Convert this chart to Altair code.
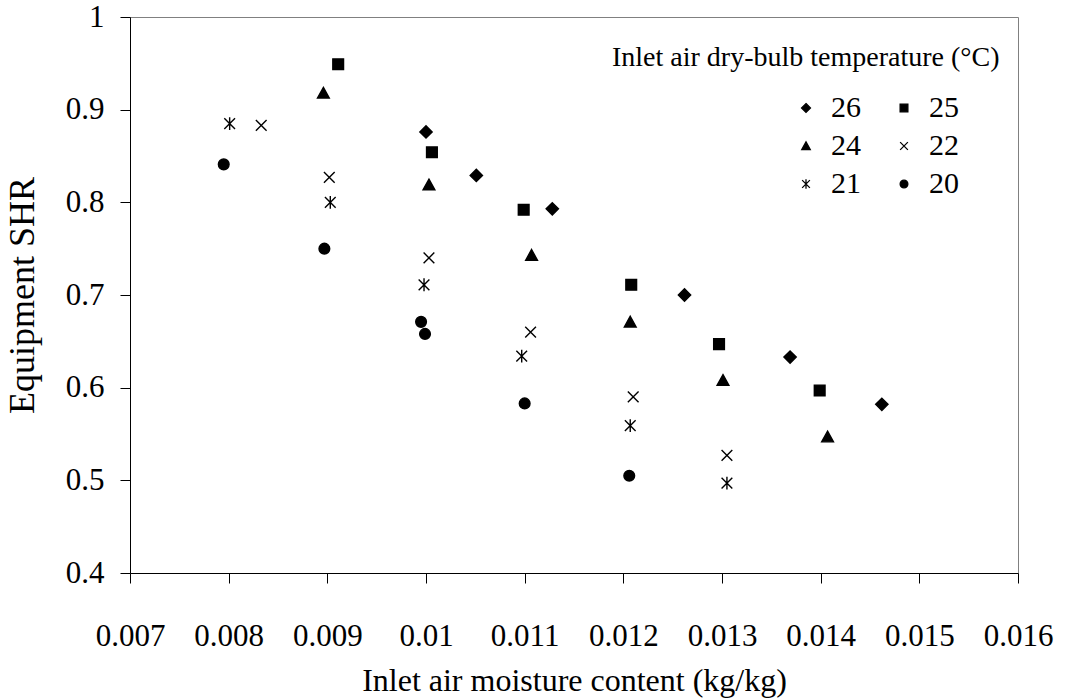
import altair as alt
import pandas as pd

# ---- data ----
temps = ["26", "25", "24", "22", "21", "20"]

x26 = [0.01000, 0.01051, 0.01128, 0.01262, 0.01369, 0.01462]
y26 = [0.876, 0.829, 0.793, 0.700, 0.633, 0.582]
x25 = [0.00911, 0.01006, 0.01099, 0.01208, 0.01297, 0.01399]
y25 = [0.949, 0.854, 0.792, 0.711, 0.647, 0.597]
x24 = [0.00896, 0.01003, 0.01107, 0.01207, 0.01301, 0.01407]
y24 = [0.918, 0.819, 0.743, 0.671, 0.608, 0.547]
x22 = [0.00833, 0.00902, 0.01003, 0.01106, 0.01210, 0.01305]
y22 = [0.883, 0.827, 0.740, 0.660, 0.590, 0.527]
x21 = [0.00801, 0.00903, 0.00998, 0.01097, 0.01207, 0.01305]
y21 = [0.885, 0.800, 0.711, 0.634, 0.559, 0.497]
x20 = [0.00795, 0.00897, 0.00995, 0.00999, 0.01100, 0.01206]
y20 = [0.841, 0.750, 0.671, 0.658, 0.583, 0.505]

x_ticks = [0.007, 0.008, 0.009, 0.010, 0.011, 0.012, 0.013, 0.014, 0.015, 0.016]
y_ticks = [0.4, 0.5, 0.6, 0.7, 0.8, 0.9, 1.0]

x_title = "Inlet air moisture content (kg/kg)"
y_title = "Equipment SHR"
legend_title = "Inlet air dry-bulb temperature (°C)"

series = {"26": (x26, y26), "25": (x25, y25), "24": (x24, y24),
          "22": (x22, y22), "21": (x21, y21), "20": (x20, y20)}
rows = []
for t in temps:
    xs, ys = series[t]
    for xv, yv in zip(xs, ys):
        rows.append({"x": xv, "y": yv, "temp": t})
df = pd.DataFrame(rows)

DIAMOND_PATH = "M0,-1.15L1.15,0L0,1.15L-1.15,0Z"
TRI_PATH = "M0,-1.05L1.1,0.95L-1.1,0.95Z"
X_PATH = "M-1,-1L1,1M-1,1L1,-1"
AST_PATH = "M-1,-1L1,1M-1,1L1,-1M0,-1.2L0,1.2"
shapes = [DIAMOND_PATH, "square", TRI_PATH, X_PATH, AST_PATH, "circle"]
fills = ["black", "black", "black", "transparent", "transparent", "black"]
strokes = ["black"] * 6

FONT = "Liberation Serif"

leg = alt.Legend(
    title=None, orient="none", legendX=661, legendY=76, columns=2,
    direction="horizontal",
    symbolSize=60, symbolStrokeWidth=1.3,
    labelFont=FONT, labelFontSize=30, labelColor="black", labelOffset=10,
    columnPadding=28, rowPadding=8,
)

points = alt.Chart(df).mark_point(
    filled=False, strokeWidth=1.4, size=115, opacity=1
).encode(
    x=alt.X("x:Q", scale=alt.Scale(domain=[0.007, 0.016], nice=False, zero=False),
            axis=alt.Axis(values=x_ticks, format=".3~f", title=x_title,
                          labelPadding=38, titlePadding=14,
                          labelFlush=False, labelOverlap=False)),
    y=alt.Y("y:Q", scale=alt.Scale(domain=[0.4, 1.0], nice=False, zero=False),
            axis=alt.Axis(values=y_ticks, format=".1~f", title=y_title,
                          labelPadding=16, titlePadding=24,
                          labelFlush=False, labelOverlap=False,
                          titleFontSize=36)),
    shape=alt.Shape("temp:N", scale=alt.Scale(domain=temps, range=shapes), legend=leg),
    fill=alt.Fill("temp:N", scale=alt.Scale(domain=temps, range=fills), legend=leg),
    stroke=alt.Stroke("temp:N", scale=alt.Scale(domain=temps, range=strokes), legend=leg),
)

title_df = pd.DataFrame({"t": [legend_title]})
title_text = alt.Chart(title_df).mark_text(
    align="left", baseline="middle", font=FONT, fontSize=28, color="black"
).encode(x=alt.value(482), y=alt.value(41), text="t:N")

chart = alt.layer(points, title_text).properties(
    width=888, height=556,
    padding={"left": 130, "top": 17, "right": 49, "bottom": 125},
    autosize=alt.AutoSizeParams(type="none"),
).configure_view(
    stroke="#808080", strokeWidth=1
).configure_axis(
    grid=False, domainColor="black", tickColor="black", tickSize=10,
    labelColor="black", titleColor="black", labelFont=FONT, titleFont=FONT,
    labelFontSize=31, titleFontSize=32, titleFontWeight="normal",
    domainWidth=1, tickWidth=1,
)

chart.save("out.html", embed_options={"renderer": "svg", "actions": False})
